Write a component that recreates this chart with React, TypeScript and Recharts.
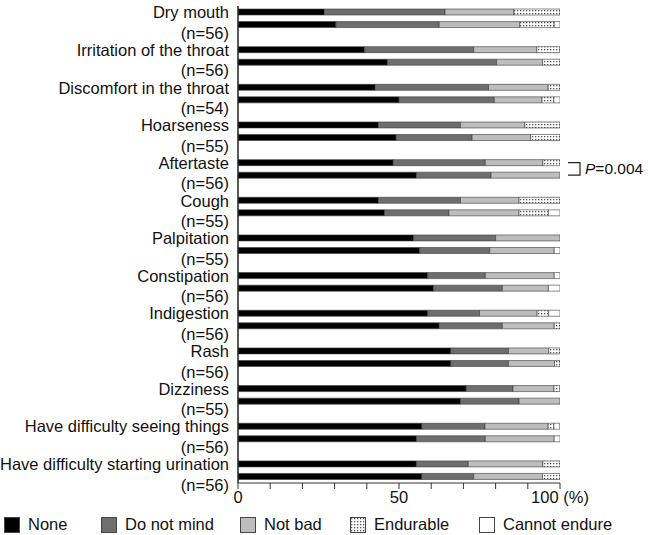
import React from "react";
import { BarChart, Bar, XAxis, YAxis, LabelList } from "recharts";

const symptoms = [
  "Dry mouth",
  "Irritation of the throat",
  "Discomfort in the throat",
  "Hoarseness",
  "Aftertaste",
  "Cough",
  "Palpitation",
  "Constipation",
  "Indigestion",
  "Rash",
  "Dizziness",
  "Have difficulty seeing things",
  "Have difficulty starting urination",
];
const nValues = [56, 56, 54, 55, 56, 55, 55, 56, 56, 56, 55, 56, 56];

// % of patients, upper bar (A) and lower bar (B) of each symptom
const noneA = [26.8, 39.3, 42.6, 43.6, 48.2, 43.6, 54.5, 58.9, 58.9, 66.1, 70.9, 57.1, 55.4];
const noneB = [30.4, 46.4, 50.0, 49.1, 55.4, 45.5, 56.4, 60.7, 62.5, 66.1, 69.1, 55.4, 57.1];
const doNotMindA = [37.5, 33.9, 35.2, 25.5, 28.6, 25.5, 25.5, 17.9, 16.1, 17.9, 14.5, 19.6, 16.1];
const doNotMindB = [32.1, 33.9, 29.6, 23.6, 23.2, 20.0, 21.8, 21.4, 19.6, 17.9, 18.2, 21.4, 16.1];
const notBadA = [21.4, 19.6, 18.5, 20.0, 17.9, 18.2, 20.0, 21.4, 17.9, 12.5, 12.7, 19.6, 23.2];
const notBadB = [25.0, 14.3, 14.8, 18.2, 21.4, 21.8, 20.0, 14.3, 16.1, 14.3, 12.7, 21.4, 21.4];
const endurableA = [14.3, 7.1, 3.7, 10.9, 5.4, 12.7, 0, 0, 3.6, 3.6, 1.8, 1.8, 5.4];
const endurableB = [10.7, 5.4, 3.7, 9.1, 0, 9.1, 0, 0, 1.8, 1.8, 0, 0, 5.4];
const cannotEndureA = [0, 0, 0, 0, 0, 0, 0, 1.8, 3.6, 0, 0, 1.8, 0];
const cannotEndureB = [1.8, 0, 1.9, 0, 0, 3.6, 1.8, 3.6, 0, 0, 0, 1.8, 0];

const pComparisons = [{ symptom: "Aftertaste", p: "0.004" }];

const xTicks = [0, 10, 20, 30, 40, 50, 60, 70, 80, 90, 100];
const labelledTicks: Record<number, string> = { 0: "0", 50: "50", 100: "100 (%)" };

const FONT = '"Liberation Sans", Arial, sans-serif';
const W = 648;
const H = 535;
const MARGIN = { top: 6, right: 88, bottom: 22, left: 0 };
const X_AXIS_H = 30;

const rows: any[] = symptoms.flatMap((s, i) => {
  const p = pComparisons.find((c) => c.symptom === s)?.p;
  const a = {
    id: `${i}a`,
    label: s,
    none: noneA[i],
    doNotMind: doNotMindA[i],
    notBad: notBadA[i],
    endurable: endurableA[i],
    cannot: cannotEndureA[i],
    p,
  };
  const b = {
    id: `${i}b`,
    label: `(n=${nValues[i]})`,
    none: noneB[i],
    doNotMind: doNotMindB[i],
    notBad: notBadB[i],
    endurable: endurableB[i],
    cannot: cannotEndureB[i],
  };
  return i < symptoms.length - 1 ? [a, b, { id: `${i}s`, label: "" }] : [a, b];
});

const BAND = (H - MARGIN.top - MARGIN.bottom - X_AXIS_H) / rows.length;

const YTick = (props: any) => {
  const { x, y, payload } = props;
  const row = rows.find((r) => r.id === payload.value);
  if (!row || !row.label) return null;
  const isN = row.id.endsWith("b");
  return (
    <text
      x={x}
      y={y + (isN ? 8 : 0)}
      dy="0.36em"
      textAnchor="end"
      fontSize={16.5}
      fontFamily={FONT}
      fill="#111"
    >
      {row.label}
    </text>
  );
};

const PBracket = (props: any) => {
  const { value } = props;
  if (!value) return null;
  const vb = props.viewBox ?? props;
  const row = rows.find((r) => r.p === value);
  if (!row || !vb.width) return null;
  const xEnd = vb.x + (vb.width * 100) / row.none;
  const yTop = vb.y + vb.height / 2;
  const yBot = yTop + BAND;
  const bx = xEnd + 20;
  return (
    <g>
      <path
        d={`M${xEnd + 8},${yTop} H${bx} V${yBot} H${xEnd + 8}`}
        fill="none"
        stroke="#222"
        strokeWidth={1.2}
      />
      <text
        x={bx + 5}
        y={(yTop + yBot) / 2}
        dy="0.36em"
        fontSize={15.5}
        fontFamily={FONT}
        fill="#111"
      >
        <tspan fontStyle="italic">P</tspan>={value}
      </text>
    </g>
  );
};

const legendItems = [
  { name: "None", fill: "#000000", left: 4 },
  { name: "Do not mind", fill: "#6e6e6e", left: 101 },
  { name: "Not bad", fill: "#bdbdbd", left: 240 },
  { name: "Endurable", fill: "url(#dotsLegend)", left: 350 },
  { name: "Cannot endure", fill: "#ffffff", left: 479 },
];

const segStroke = "#3a3a3a";

export default function App() {
  return (
    <div style={{ position: "absolute", left: 0, top: 0, width: W, height: H, fontFamily: FONT }}>
      <BarChart width={W} height={H} data={rows} layout="vertical" margin={MARGIN}>
        <defs>
          <pattern id="dots" width="3" height="3" patternUnits="userSpaceOnUse">
            <rect width="3" height="3" fill="#ffffff" />
            <rect x="1" y="1" width="1.3" height="1.3" fill="#555" />
          </pattern>
        </defs>
        <XAxis
          type="number"
          domain={[0, 100]}
          allowDataOverflow
          ticks={xTicks}
          interval={0}
          height={X_AXIS_H}
          tickSize={6}
          tickFormatter={(v: number) => labelledTicks[v] ?? ""}
          tick={{ fontSize: 16.5, fill: "#111", fontFamily: FONT }}
          stroke="#333"
        />
        <YAxis
          type="category"
          dataKey="id"
          width={238}
          interval={0}
          tickLine={false}
          tickSize={0}
          tickMargin={9}
          tick={<YTick />}
          stroke="#222"
          strokeWidth={1.5}
        />
        <Bar dataKey="none" stackId="s" fill="#000000" stroke={segStroke} strokeWidth={0.6} barSize={6} isAnimationActive={false}>
          <LabelList dataKey="p" content={PBracket} />
        </Bar>
        <Bar dataKey="doNotMind" stackId="s" fill="#6e6e6e" stroke={segStroke} strokeWidth={0.6} barSize={6} isAnimationActive={false} />
        <Bar dataKey="notBad" stackId="s" fill="#bdbdbd" stroke={segStroke} strokeWidth={0.6} barSize={6} isAnimationActive={false} />
        <Bar dataKey="endurable" stackId="s" fill="url(#dots)" stroke={segStroke} strokeWidth={0.6} barSize={6} isAnimationActive={false} />
        <Bar dataKey="cannot" stackId="s" fill="#ffffff" stroke={segStroke} strokeWidth={0.6} barSize={6} isAnimationActive={false} />
      </BarChart>
      {legendItems.map((it) => (
        <div
          key={it.name}
          style={{
            position: "absolute",
            left: it.left,
            top: 515,
            display: "flex",
            alignItems: "center",
            fontSize: 16.5,
            color: "#111",
            whiteSpace: "nowrap",
          }}
        >
          <svg width={16} height={16} style={{ marginRight: 8 }}>
            <defs>
              <pattern id="dotsLegend" width="3" height="3" patternUnits="userSpaceOnUse">
                <rect width="3" height="3" fill="#ffffff" />
                <rect x="1" y="1" width="1.3" height="1.3" fill="#555" />
              </pattern>
            </defs>
            <rect x={0.5} y={0.5} width={15} height={15} fill={it.fill} stroke="#444" strokeWidth={1} />
          </svg>
          <span>{it.name}</span>
        </div>
      ))}
    </div>
  );
}
